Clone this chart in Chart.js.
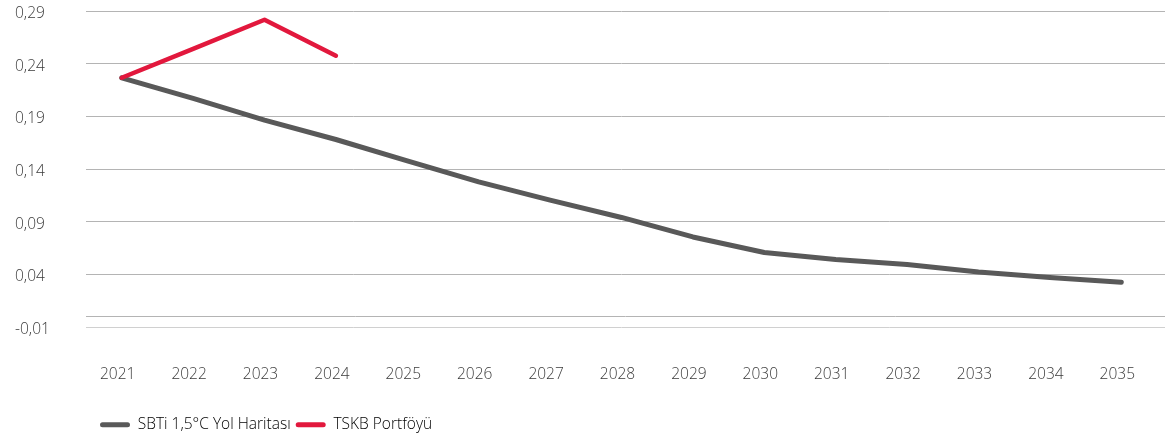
<!DOCTYPE html>
<html>
<head>
<meta charset="utf-8">
<script src="https://cdn.jsdelivr.net/npm/chart.js@4"></script>
<style>
html,body{margin:0;padding:0;background:#fff;}
#wrap{width:1165px;height:438px;position:relative;}
</style>
</head>
<body>
<div id="wrap"><canvas id="c" width="1165" height="438"></canvas></div>
<script>
const years = ['2021','2022','2023','2024','2025','2026','2027','2028','2029','2030','2031','2032','2033','2034','2035'];
const sbtiValues = [0.2266,0.2070,0.1864,0.1680,0.1477,0.1278,0.1104,0.0940,0.0755,0.0607,0.0540,0.0493,0.0422,0.0369,0.0325];
const tskbValues = [0.2266,0.2540,0.2817,0.2475];
const seriesNames = ['SBTi 1,5°C Yol Haritası','TSKB Portföyü'];
const seriesColors = ['#595959','#e2183d'];
const yTicks = {min:-0.01, max:0.29, step:0.05};

const fontFam = "'Open Sans', 'Noto Sans', sans-serif";
const fontSize = 15.5;
const gridColor = '#b4b4b4';
const gridColorLow = '#d0d0d0';

function alignPx(p){ return Math.round(p - 0.5) + 0.5; }

// zero line + extend horizontal grid lines to the right canvas edge
const gridExtras = {
  id:'gridExtras',
  beforeDatasetsDraw(chart){
    const ys = chart.scales.y;
    const a = chart.chartArea;
    const ctx = chart.ctx;
    const W = chart.width;
    ctx.save();
    ctx.lineWidth = 1;
    const y0 = alignPx(ys.getPixelForValue(0));
    ctx.strokeStyle = gridColor;
    ctx.beginPath(); ctx.moveTo(a.left, y0); ctx.lineTo(W, y0); ctx.stroke();
    ys.ticks.forEach(t=>{
      const y = alignPx(ys.getPixelForValue(t.value));
      ctx.strokeStyle = t.value < 0 ? gridColorLow : gridColor;
      ctx.beginPath(); ctx.moveTo(a.right, y); ctx.lineTo(W, y); ctx.stroke();
    });
    ctx.restore();
  }
};
const legendShift = {
  id:'legendShift',
  beforeLayout(chart){
    const lg = chart.legend;
    if(lg && !lg._fixedFit){
      const f = lg.fit.bind(lg);
      lg.fit = function(){ f(); this.height = 30; };
      lg._fixedFit = true;
    }
  },
  afterUpdate(chart){
    const lg = chart.legend;
    if(!lg) return;
    lg.left = 95;
    lg.top = 412;
    lg.bottom = lg.top + 30;
    lg.adjustHitBoxes();
  }
};

new Chart(document.getElementById('c'), {
  type:'line',
  data:{
    labels: years,
    datasets:[
      {label:seriesNames[0], data:sbtiValues, borderColor:seriesColors[0], backgroundColor:seriesColors[0], borderWidth:5, pointRadius:0, pointHoverRadius:0, tension:0, borderCapStyle:'round', borderJoinStyle:'round', order:2},
      {label:seriesNames[1], data:tskbValues, borderColor:seriesColors[1], backgroundColor:seriesColors[1], borderWidth:4.5, pointRadius:0, pointHoverRadius:0, tension:0, borderCapStyle:'round', borderJoinStyle:'round', order:1}
    ]
  },
  options:{
    responsive:false,
    animation:false,
    layout:{autoPadding:false, padding:{left:15, right:8, top:11, bottom:24}},
    scales:{
      x:{
        type:'category',
        offset:true,
        border:{display:false},
        grid:{display:false, drawTicks:true, tickLength:38},
        afterFit(s){ s.height = 57; },
        ticks:{autoSkip:false, maxRotation:0, padding:0, labelOffset:-4, color:'#3a3a3a', font:{family:fontFam, size:fontSize, weight:'300'}}
      },
      y:{
        min:yTicks.min, max:yTicks.max,
        border:{display:false},
        grid:{color:ctx=>ctx.tick && ctx.tick.value < 0 ? gridColorLow : gridColor, lineWidth:1, drawTicks:false},
        afterFit(s){ s.width = 71; },
        ticks:{stepSize:yTicks.step, crossAlign:'far', padding:0, labelOffset:2.5, color:'#3a3a3a', font:{family:fontFam, size:fontSize, weight:'300'}, callback:v=>v.toFixed(2).replace('.',',')}
      }
    },
    plugins:{
      legend:{
        position:'bottom', align:'start',
        labels:{
          boxWidth:30, boxHeight:5, useBorderRadius:true, borderRadius:2.5, padding:5,
          color:'#3a3a3a', font:{family:fontFam, size:fontSize, weight:'300'},
          generateLabels(chart){
            return chart.data.datasets.map((d,i)=>({text:d.label, fillStyle:d.borderColor, strokeStyle:d.borderColor, lineWidth:0, datasetIndex:i, borderRadius:2.5}));
          }
        }
      },
      tooltip:{enabled:false}
    }
  },
  plugins:[gridExtras, legendShift]
});
</script>
</body>
</html>
